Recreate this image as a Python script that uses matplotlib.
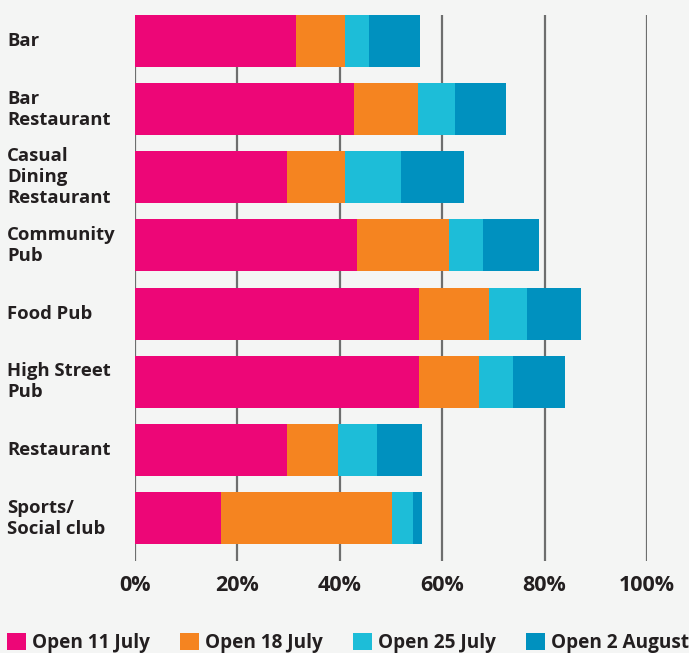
import numpy as np
import matplotlib
matplotlib.use("Agg")
import matplotlib.pyplot as plt
import matplotlib.transforms as mtransforms
from matplotlib.patches import Patch

categories = ["Bar", "Bar\nRestaurant", "Casual\nDining\nRestaurant", "Community\nPub",
              "Food Pub", "High Street\nPub", "Restaurant", "Sports/\nSocial club"]
series_names = ["Open 11 July", "Open 18 July", "Open 25 July", "Open 2 August"]
# cumulative share open by each date (%)
open_11_july = [31.4, 42.8, 29.7, 43.4, 55.5, 55.5, 29.6, 16.8]
open_18_july = [41.0, 55.2, 41.1, 61.3, 69.1, 67.2, 39.6, 50.2]
open_25_july = [45.7, 62.5, 52.0, 68.0, 76.6, 73.8, 47.3, 54.3]
open_2_august = [55.7, 72.5, 64.3, 78.9, 87.1, 84.0, 56.0, 56.0]
xticks = [0, 20, 40, 60, 80, 100]

colors = ["#ed0677", "#f58420", "#1dbdd8", "#0091bf"]
bg = "#f4f5f4"
txt = "#231f20"

plt.rcParams['font.family'] = ['Open Sans', 'DejaVu Sans']

fig = plt.figure(figsize=(6.89, 6.53), dpi=100, facecolor=bg)
ax = fig.add_axes([135 / 689, 92 / 653, 512 / 689, 546 / 653], facecolor=bg)

y = np.arange(len(categories))
cum = [open_11_july, open_18_july, open_25_july, open_2_august]
left = np.zeros(len(categories))
for vals, c in zip(cum, colors):
    vals = np.array(vals)
    ax.barh(y, vals - left, left=left, height=0.763, color=c, zorder=3)
    left = vals

ax.set_xlim(0, 100)
ax.set_ylim(7.63, -0.38)
ax.set_xticks(xticks)
ax.set_xticklabels([f"{t}%" for t in xticks], fontsize=15.5, fontweight="bold", color=txt)
ax.set_yticks([])
ax.tick_params(axis="x", length=0, pad=10)
ax.grid(axis="x", color="#6d6e6e", linewidth=1.6, zorder=0)
for s in ax.spines.values():
    s.set_visible(False)

trans = mtransforms.blended_transform_factory(fig.transFigure, ax.transData)
for yi, lab in zip(y, categories):
    ax.text(7 / 689, yi, lab, transform=trans, ha="left", va="center",
            fontsize=13.3, fontweight="bold", color=txt, linespacing=1.22)

handles = [Patch(facecolor=c, edgecolor="none") for c in colors]
fig.legend(handles, series_names, loc="center left", bbox_to_anchor=(7 / 689, 10 / 653),
           ncol=4, frameon=False, handlelength=1.0, handleheight=1.0,
           handletextpad=0.3, columnspacing=1.6, borderaxespad=0, borderpad=0,
           prop={"weight": "bold", "size": 13.7})
for t in fig.legends[0].get_texts():
    t.set_color(txt)

fig.savefig("out.png", dpi=100, facecolor=bg)
